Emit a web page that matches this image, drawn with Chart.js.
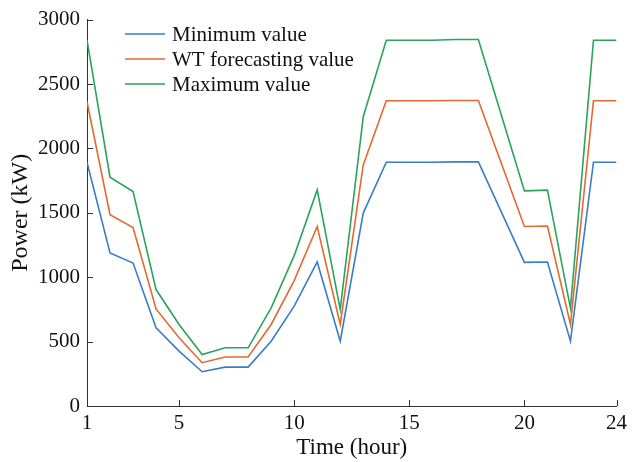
<!DOCTYPE html>
<html><head><meta charset="utf-8">
<script src="https://cdn.jsdelivr.net/npm/chart.js@4.4.1/dist/chart.umd.min.js"></script>
<style>html,body{margin:0;padding:0;background:#fff}#wrap{width:632px;height:462px}</style>
</head><body><div id="wrap"><canvas id="c" width="632" height="462"></canvas></div>
<script>
const hours = [1,2,3,4,5,6,7,8,9,10,11,12,13,14,15,16,17,18,19,20,21,22,23,24];
const minValue = [1893,1188,1110,607,426,266,302,302,503,775,1118,503,1498,1893,1893,1893,1895,1895,1505,1115,1118,503,1893,1893];
const forecastValue = [2362,1485,1386,754,530,336,380,380,633,973,1394,633,1872,2370,2370,2370,2372,2372,1883,1394,1397,633,2370,2370];
const maxValue = [2840,1776,1665,904,633,400,452,452,762,1167,1678,750,2246,2840,2840,2840,2845,2845,2258,1670,1676,760,2840,2840];
const xTicks = [1,5,10,15,20,24];
const yTicks = [0,500,1000,1500,2000,2500,3000];
const seriesLabels = ['Minimum value','WT forecasting value','Maximum value'];
const seriesColors = ['#3a7dc4','#e2692f','#2aa35c'];

const toPts = arr => arr.map((v,i)=>({x:hours[i], y:v}));
const font = 'Liberation Serif';

const innerTicks = {
  id:'innerTicks',
  afterDraw(chart){
    const {ctx, scales:{x,y}, chartArea:a} = chart;
    ctx.save();
    ctx.strokeStyle='#333'; ctx.lineWidth=1;
    ctx.beginPath();
    xTicks.forEach(t=>{const px=Math.round(x.getPixelForValue(t))+0.5; ctx.moveTo(px,a.bottom); ctx.lineTo(px,a.bottom-6);});
    yTicks.forEach(t=>{const py=Math.round(y.getPixelForValue(t))+0.5; ctx.moveTo(a.left,py); ctx.lineTo(a.left+6,py);});
    ctx.stroke();
    // legend
    ctx.font = '21px "'+font+'"';
    ctx.textBaseline='middle';
    ctx.fillStyle='#111';
    chart.data.datasets.forEach((d,i)=>{
      const yy = 34 + i*25;
      ctx.strokeStyle=d.borderColor; ctx.lineWidth=1.5;
      ctx.beginPath(); ctx.moveTo(125,yy); ctx.lineTo(165,yy); ctx.stroke();
      ctx.fillText(d.label, 172, yy+1);
    });
    ctx.restore();
  }
};

new Chart(document.getElementById('c'), {
  type:'line',
  data:{datasets:[
    {label:seriesLabels[0], data:toPts(minValue), borderColor:seriesColors[0]},
    {label:seriesLabels[1], data:toPts(forecastValue), borderColor:seriesColors[1]},
    {label:seriesLabels[2], data:toPts(maxValue), borderColor:seriesColors[2]}
  ].map(d=>Object.assign(d,{borderWidth:1.6,pointRadius:0,tension:0,fill:false}))},
  options:{
    responsive:false, animation:false,
    layout:{padding:{top:19,right:12,left:0,bottom:0}},
    plugins:{legend:{display:false},tooltip:{enabled:false}},
    scales:{
      x:{type:'linear',min:1,max:24,
        afterBuildTicks(s){s.ticks=xTicks.map(v=>({value:v}));},
        afterFit(s){s.height=56;},
        grid:{display:true,drawOnChartArea:false,drawTicks:false},
        border:{display:true,color:'#333',width:1},
        ticks:{color:'#111',font:{family:font,size:21},padding:5,maxRotation:0,autoSkip:false,callback:v=>String(v)},
        title:{display:true,text:'Time (hour)',color:'#111',font:{family:font,size:23},padding:{top:3,bottom:0}}
      },
      y:{min:0,max:3000,
        afterBuildTicks(s){s.ticks=yTicks.map(v=>({value:v}));},
        afterFit(s){s.width=87;},
        grid:{display:true,drawOnChartArea:false,drawTicks:false},
        border:{display:true,color:'#333',width:1},
        ticks:{color:'#111',font:{family:font,size:21},padding:7,callback:v=>String(v)},
        title:{display:true,text:'Power (kW)',color:'#111',font:{family:font,size:24},padding:{top:6,bottom:0}}
      }
    }
  },
  plugins:[innerTicks]
});
</script></body></html>
